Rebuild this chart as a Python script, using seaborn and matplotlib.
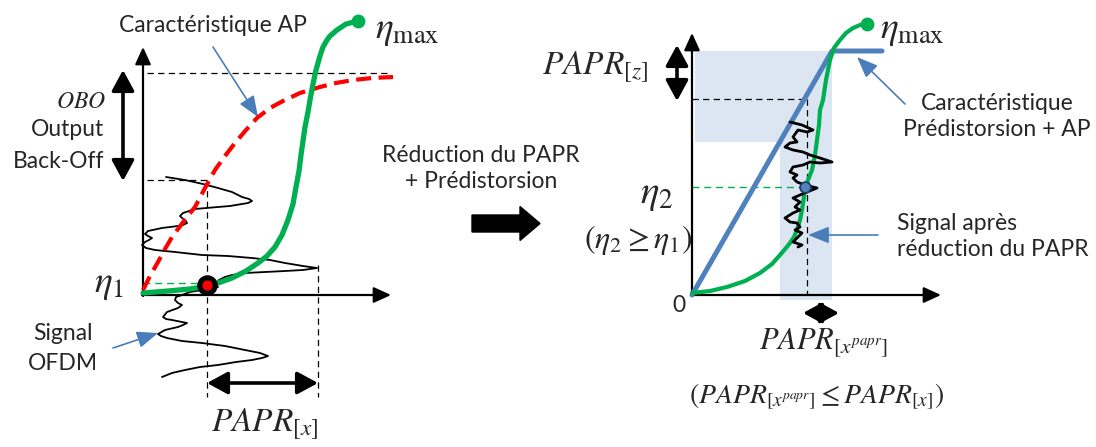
import matplotlib
matplotlib.use("Agg")
import matplotlib.pyplot as plt
import seaborn as sns
from matplotlib.patches import Rectangle, FancyArrow

sns.set_style("white")
plt.rcParams['font.family'] = ['Lato', 'DejaVu Sans']
plt.rcParams['mathtext.fontset'] = 'stix'

# ---------------- data (pixel-space schematic) ----------------
# left panel: PA characteristic (green)
green_left_x = [143, 168, 190, 202, 218, 232, 246, 258, 267, 275, 282, 288, 293, 296, 299, 301, 303, 305,
                308, 310, 313, 316, 320, 323, 327, 330, 337, 346, 358]
green_left_y = [293, 291, 289, 287, 283, 278, 271, 263, 256, 247, 235, 220, 204, 187, 171, 155, 141, 127,
                112, 100, 84, 70, 56, 47, 40, 36, 30, 24, 21]
# left panel: AP characteristic (red dashed)
red_x = [143, 150, 158, 165, 172, 184, 195, 205, 215, 225, 235, 246, 257, 270, 283, 300, 320, 336, 353, 372, 393]
red_y = [290, 276, 262, 249, 237, 221, 207, 188, 170, 156, 143, 130, 118, 108, 101, 93, 87, 83, 80, 78, 77]
# left panel: OFDM signal
ofdm_x = [166, 185, 203, 218, 232, 242, 249, 252, 248, 242, 230, 218, 195, 183, 180, 182, 185, 187, 183,
          178, 162, 148, 145, 148, 152, 149, 145, 142, 146, 155, 175, 202, 228, 252, 270, 285, 303, 317,
          303, 285, 265, 245, 232, 225, 219, 217, 215, 218, 210, 202, 190, 182, 176, 175, 178, 182, 178,
          167, 163, 166, 172, 187, 183, 178, 165, 158, 161, 167, 182, 202, 225, 245, 260, 268, 262, 252,
          236, 218, 200, 185, 172, 162]
ofdm_y = [177, 180, 184, 188, 192, 197, 199, 201, 203, 204, 206, 207, 209, 213, 216, 218, 220, 223, 225,
          226, 228, 231, 234, 236, 238, 240, 242, 245, 248, 250, 252, 255, 256, 258, 260, 263, 266, 268,
          270, 271, 272, 273, 275, 277, 280, 282, 285, 287, 289, 290, 292, 295, 297, 300, 303, 305, 308,
          312, 317, 319, 320, 323, 325, 327, 330, 334, 336, 338, 341, 343, 346, 350, 353, 356, 358, 360,
          362, 365, 367, 370, 373, 377]
# right panel: predistortion+PA characteristic (blue)
blue_x = [692, 832, 882]
blue_y = [295, 51, 51]
# right panel: PA characteristic (green)
green_right_x = [692, 710, 727, 745, 760, 772, 780, 786, 790, 794, 797, 800, 802, 805, 808, 812, 815, 817,
                 819, 820, 823, 826, 830, 834, 840, 846, 853, 860, 867]
green_right_y = [293, 291, 287, 281, 273, 264, 255, 248, 243, 237, 230, 220, 210, 190, 180, 170, 155, 140,
                 125, 110, 100, 80, 60, 48, 40, 33, 28, 25, 24]
# right panel: signal after PAPR reduction
sig_x = [790, 802, 813, 807, 798, 793, 797, 790, 785, 793, 803, 810, 820, 832, 820, 810, 803, 793, 790,
         797, 793, 797, 805, 817, 807, 800, 793, 800, 795, 800, 793, 785, 790, 797, 800, 795, 802, 797,
         793, 802, 798]
sig_y = [122, 125, 130, 132, 130, 137, 142, 143, 147, 150, 152, 155, 158, 162, 163, 162, 165, 167, 172,
         175, 178, 182, 185, 188, 192, 195, 198, 202, 207, 210, 213, 218, 222, 223, 227, 230, 233, 238,
         242, 245, 247]

# shaded areas: (x0, y0, width, height)
shade_rects = [(695, 51, 137, 91), (780, 51, 52, 249)]

GREEN = '#00b050'
RED = '#ff0000'
BLUE = '#4f81bd'
ABLUE = '#4a7ebb'
SHADE = '#dce6f2'
FS = 16.5

fig = plt.figure(figsize=(10.96, 4.47), dpi=100)
ax = fig.add_axes([0, 0, 1, 1])
ax.set_xlim(0, 1096)
ax.set_ylim(447, 0)
ax.axis('off')

for (x0, y0, w, h) in shade_rects:
    ax.add_patch(Rectangle((x0, y0), w, h, facecolor=SHADE, edgecolor='none', zorder=0))

def arrow(tail, tip, style, color, lw, ms, z=3):
    ax.annotate('', xy=tip, xytext=tail,
                arrowprops=dict(arrowstyle=style, color=color, lw=lw, mutation_scale=ms,
                                shrinkA=0, shrinkB=0), zorder=z)

def dline(xs, ys, color='black', lw=0.9, dash=(5, 3.5), z=2):
    ax.plot(xs, ys, color=color, lw=lw, linestyle=(0, dash), zorder=z)

# ---------------- left panel ----------------
axis_style = '-|>,head_length=0.7,head_width=0.32'
arrow((143, 296), (143, 47), axis_style, 'black', 1.6, 15)
arrow((142, 295), (391, 295), axis_style, 'black', 1.6, 15)

dline([147, 390], [73, 73])
dline([147, 207], [180, 180])
dline([207, 207], [180, 397])
dline([318, 318], [265, 397])
dline([143, 207], [283, 283], color=GREEN, lw=1.0)

sns.lineplot(x=ofdm_x, y=ofdm_y, sort=False, estimator=None, color='black', lw=1.3, ax=ax, zorder=3)
sns.lineplot(x=red_x, y=red_y, sort=False, estimator=None, color=RED, lw=3.0,
             linestyle=(0, (3.6, 1.8)), ax=ax, zorder=4)
sns.lineplot(x=green_left_x, y=green_left_y, sort=False, estimator=None, color=GREEN, lw=3.8, ax=ax, zorder=4)

ax.scatter([358], [21], s=80, color=GREEN, zorder=5)
ax.scatter([207], [285], s=190, color='black', zorder=6)
ax.scatter([207], [285], s=40, color=RED, zorder=7)

dbl = '<|-|>,head_length=0.7,head_width=0.38'
arrow((123, 70), (123, 181), dbl, 'black', 2.6, 18)
arrow((207, 383), (318, 383), dbl, 'black', 2.6, 18)

blue_arrow = '-|>,head_length=0.8,head_width=0.32'
arrow((213, 47), (258, 117), blue_arrow, ABLUE, 1.2, 16)
arrow((113, 348), (158, 333), blue_arrow, ABLUE, 1.2, 16)

ax.text(213, 25, 'Caractéristique AP', fontsize=FS, ha='center', va='center')
ax.text(375, 30, r'$\eta_{\mathrm{max}}$', fontsize=27, ha='left', va='center')
ax.text(106, 102, r'$OBO$', fontsize=17, ha='right', va='center')
ax.text(104, 130, 'Output', fontsize=FS, ha='right', va='center')
ax.text(104, 161, 'Back-Off', fontsize=FS, ha='right', va='center')
ax.text(124, 284, r'$\eta_1$', fontsize=27, ha='right', va='center')
ax.text(63, 333, 'Signal', fontsize=FS, ha='center', va='center')
ax.text(63, 363, 'OFDM', fontsize=FS, ha='center', va='center')
ax.text(265, 424, r'$PAPR_{[x]}$', fontsize=24, ha='center', va='center')

# ---------------- middle ----------------
ax.text(481, 155, 'Réduction du PAPR', fontsize=FS, ha='center', va='center')
ax.text(481, 182, '+ Prédistorsion', fontsize=FS, ha='center', va='center')
ax.add_patch(FancyArrow(472, 223.5, 68, 0, width=17, head_width=34, head_length=20,
                        length_includes_head=True, color='black', zorder=3))

# ---------------- right panel ----------------
arrow((692, 296), (692, 33), axis_style, 'black', 1.6, 15)
arrow((691, 295), (941, 295), axis_style, 'black', 1.6, 15)

dline([692, 807], [99, 99])
dline([807, 807], [99, 295])
dline([692, 805], [187, 187], color=GREEN, lw=1.0)

sns.lineplot(x=blue_x, y=blue_y, sort=False, estimator=None, color=BLUE, lw=3.6, ax=ax, zorder=4)
sns.lineplot(x=green_right_x, y=green_right_y, sort=False, estimator=None, color=GREEN, lw=3.0, ax=ax, zorder=4)
sns.lineplot(x=sig_x, y=sig_y, sort=False, estimator=None, color='black', lw=2.0, ax=ax, zorder=5)

ax.scatter([867], [24], s=80, color=GREEN, zorder=5)
ax.scatter([805], [187], s=60, color=BLUE, edgecolor='#1f3864', linewidth=1.2, zorder=6)

arrow((677, 45), (677, 101), dbl, 'black', 2.6, 18)
arrow((803, 313), (839, 313), dbl, 'black', 2.6, 16)

arrow((905, 104), (857, 57), blue_arrow, ABLUE, 1.2, 16)
arrow((878, 235), (808, 235), blue_arrow, ABLUE, 1.2, 16)

ax.text(880, 30, r'$\eta_{\mathrm{max}}$', fontsize=27, ha='left', va='center')
ax.text(595, 67, r'$PAPR_{[z]}$', fontsize=24, ha='center', va='center')
ax.text(657, 195, r'$\eta_2$', fontsize=28, ha='center', va='center')
ax.text(638, 240, r'$(\eta_2 \geq \eta_1)$', fontsize=23, ha='center', va='center')
ax.text(679, 305, '0', fontsize=FS, ha='center', va='center')
ax.text(997, 103, 'Caractéristique', fontsize=FS, ha='center', va='center')
ax.text(997, 130, 'Prédistorsion + AP', fontsize=FS, ha='center', va='center')
ax.text(897, 223, 'Signal après', fontsize=FS, ha='left', va='center')
ax.text(897, 250, 'réduction du PAPR', fontsize=FS, ha='left', va='center')
ax.text(824, 343, r'$PAPR_{[x^{papr}]}$', fontsize=22, ha='center', va='center')
ax.text(817, 397, r'$\left(PAPR_{[x^{papr}]} \leq PAPR_{[x]}\right)$', fontsize=20, ha='center', va='center')

fig.savefig('out.png', dpi=100)
